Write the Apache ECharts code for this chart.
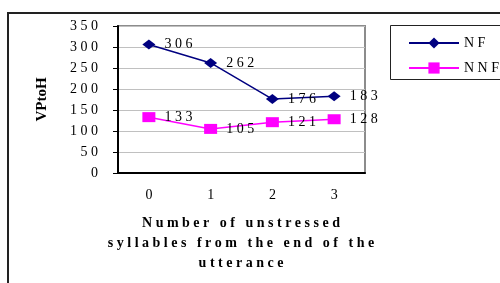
<!DOCTYPE html>
<html>
<head>
<meta charset="utf-8">
<script src="https://cdn.jsdelivr.net/npm/echarts@6/dist/echarts.min.js"></script>
<style>
  html, body { margin: 0; padding: 0; background: #fff; }
  #chart { width: 500px; height: 283px; }
</style>
</head>
<body>
<div id="chart"></div>
<script>
var categories = ['0', '1', '2', '3'];
var nfValues = [306, 262, 176, 183];
var nnfValues = [133, 105, 121, 128];
var yTicks = { min: 0, max: 350, interval: 50 };
var xTitle = 'Number of unstressed\nsyllables from the end of the\nutterance';

var serif = "'Liberation Serif', 'Times New Roman', serif";

// spread characters out like the old spreadsheet font did
function spaced(s) {
    return String(s).split('\n').map(function (line) {
        return line.split('').join(' ');
    }).join('\n');
}

var chart = echarts.init(document.getElementById('chart'));
var option = {
    animation: false,
    grid: {
        left: 118, top: 26, right: 135, bottom: 110,
        show: true, borderColor: '#8c8c8c', borderWidth: 2
    },
    legend: {
        left: 403, top: 31,
        orient: 'vertical',
        itemWidth: 50, itemHeight: 14, itemGap: 11,
        textStyle: { fontFamily: serif, fontSize: 14, color: '#000' },
        formatter: function (n) { return spaced(n); },
        data: ['NF', 'NNF']
    },
    graphic: [
        { type: 'rect', shape: { x: 8, y: 13, width: 600, height: 400 },
          style: { fill: null, stroke: '#222', lineWidth: 2 } },
        { type: 'rect', shape: { x: 390.5, y: 25.5, width: 200, height: 54 },
          style: { fill: null, stroke: '#222', lineWidth: 1 } },
        { type: 'text', x: 241, y: 213,
          style: { text: spaced(xTitle), fontFamily: serif, fontSize: 14, fontWeight: 'bold',
                   fill: '#000', align: 'center', lineHeight: 20 } }
    ],
    xAxis: {
        type: 'category',
        data: categories,
        boundaryGap: true,
        axisLine: { lineStyle: { color: '#000', width: 2 } },
        axisTick: { length: 5, lineStyle: { color: '#000' } },
        axisLabel: { margin: 15, fontFamily: serif, fontSize: 14, color: '#000' }
    },
    yAxis: {
        type: 'value',
        min: yTicks.min, max: yTicks.max, interval: yTicks.interval,
        name: 'VPtoH',
        nameLocation: 'middle',
        nameGap: 68,
        nameTextStyle: { fontFamily: serif, fontSize: 15, fontWeight: 'bold', color: '#000' },
        axisLine: { show: true, lineStyle: { color: '#000', width: 2 } },
        axisTick: { show: true, length: 5, lineStyle: { color: '#000' } },
        axisLabel: {
            margin: 20, fontFamily: serif, fontSize: 14, color: '#000',
            formatter: function (v) { return spaced(v); }
        },
        splitLine: { lineStyle: { color: '#c0c0c0' } }
    },
    series: [
        {
            name: 'NF', type: 'line', data: nfValues,
            symbol: 'diamond', symbolSize: [13, 10],
            itemStyle: { color: '#000080' },
            lineStyle: { color: '#000080', width: 1.5 },
            label: { show: true, position: 'right', distance: 9,
                     fontFamily: serif, fontSize: 14, color: '#000',
                     formatter: function (p) { return spaced(p.value); } }
        },
        {
            name: 'NNF', type: 'line', data: nnfValues,
            symbol: 'rect', symbolSize: [13, 10],
            itemStyle: { color: '#ff00ff' },
            lineStyle: { color: '#ff00ff', width: 1.5 },
            label: { show: true, position: 'right', distance: 9,
                     fontFamily: serif, fontSize: 14, color: '#000',
                     formatter: function (p) { return spaced(p.value); } }
        }
    ]
};
chart.setOption(option);
window.onresize = chart.resize;
</script>
</body>
</html>
